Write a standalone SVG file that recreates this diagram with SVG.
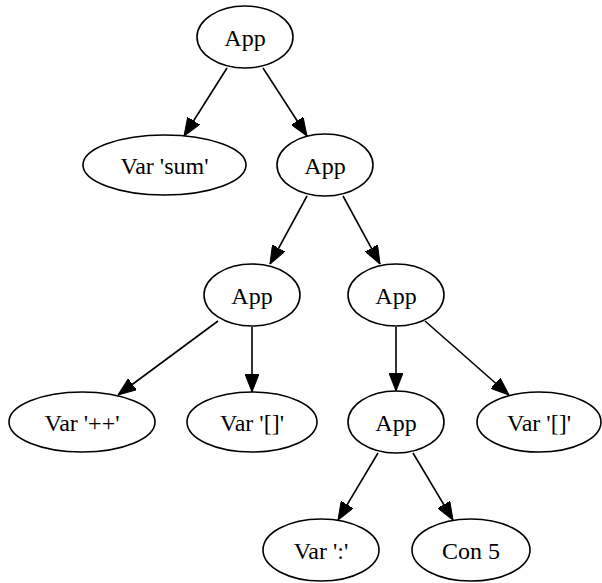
<svg xmlns="http://www.w3.org/2000/svg" width="602" height="583" viewBox="0 0 602 583">
<style>
.n ellipse{fill:#fff;stroke:#000;stroke-width:1.6}
.n text{font-family:"Liberation Serif","Times New Roman",serif;font-size:24px;text-anchor:middle;fill:#000}
.e line{stroke:#000;stroke-width:1.6;marker-end:url(#ah)}
</style>
<defs>
<marker id="ah" viewBox="0 0 18 14" refX="18" refY="7" markerWidth="18" markerHeight="14" markerUnits="userSpaceOnUse" orient="auto">
<path d="M0,0 L18,7 L0,14 z" fill="#000" stroke="#000" stroke-width="1"/>
</marker>
</defs>
<rect width="602" height="583" fill="#fff"/>
<g id="edges" class="e">
<line x1="227" y1="68" x2="184" y2="136"/>
<line x1="263" y1="68" x2="307" y2="136"/>
<line x1="307" y1="196" x2="270" y2="264"/>
<line x1="343" y1="196" x2="380" y2="264"/>
<line x1="218" y1="321" x2="118" y2="395"/>
<line x1="252" y1="327" x2="252" y2="392"/>
<line x1="396" y1="327" x2="396" y2="391"/>
<line x1="425" y1="321" x2="509" y2="395"/>
<line x1="378" y1="453" x2="338" y2="520"/>
<line x1="413" y1="453" x2="453" y2="520"/>
</g>
<g id="n0" class="n"><ellipse cx="245" cy="37" rx="48" ry="31"/><text x="245" y="46">App</text></g>
<g id="n1" class="n"><ellipse cx="164.5" cy="165" rx="81.5" ry="30"/><text x="164.5" y="174">Var 'sum'</text></g>
<g id="n2" class="n"><ellipse cx="325" cy="165" rx="48" ry="31"/><text x="325" y="174">App</text></g>
<g id="n3" class="n"><ellipse cx="252" cy="295" rx="48" ry="31"/><text x="252" y="304">App</text></g>
<g id="n4" class="n"><ellipse cx="396" cy="295" rx="48" ry="31"/><text x="396" y="304">App</text></g>
<g id="n5" class="n"><ellipse cx="82" cy="422" rx="73" ry="30"/><text x="82" y="431">Var '++'</text></g>
<g id="n6" class="n"><ellipse cx="252" cy="422" rx="65" ry="30"/><text x="252" y="431">Var '[]'</text></g>
<g id="n7" class="n"><ellipse cx="396" cy="422" rx="48" ry="31"/><text x="396" y="431">App</text></g>
<g id="n8" class="n"><ellipse cx="539" cy="422" rx="62" ry="30"/><text x="539" y="431">Var '[]'</text></g>
<g id="n9" class="n"><ellipse cx="321" cy="550" rx="58" ry="31"/><text x="321" y="559">Var ':'</text></g>
<g id="n10" class="n"><ellipse cx="471" cy="550" rx="59" ry="31"/><text x="471" y="559">Con 5</text></g>
</svg>
